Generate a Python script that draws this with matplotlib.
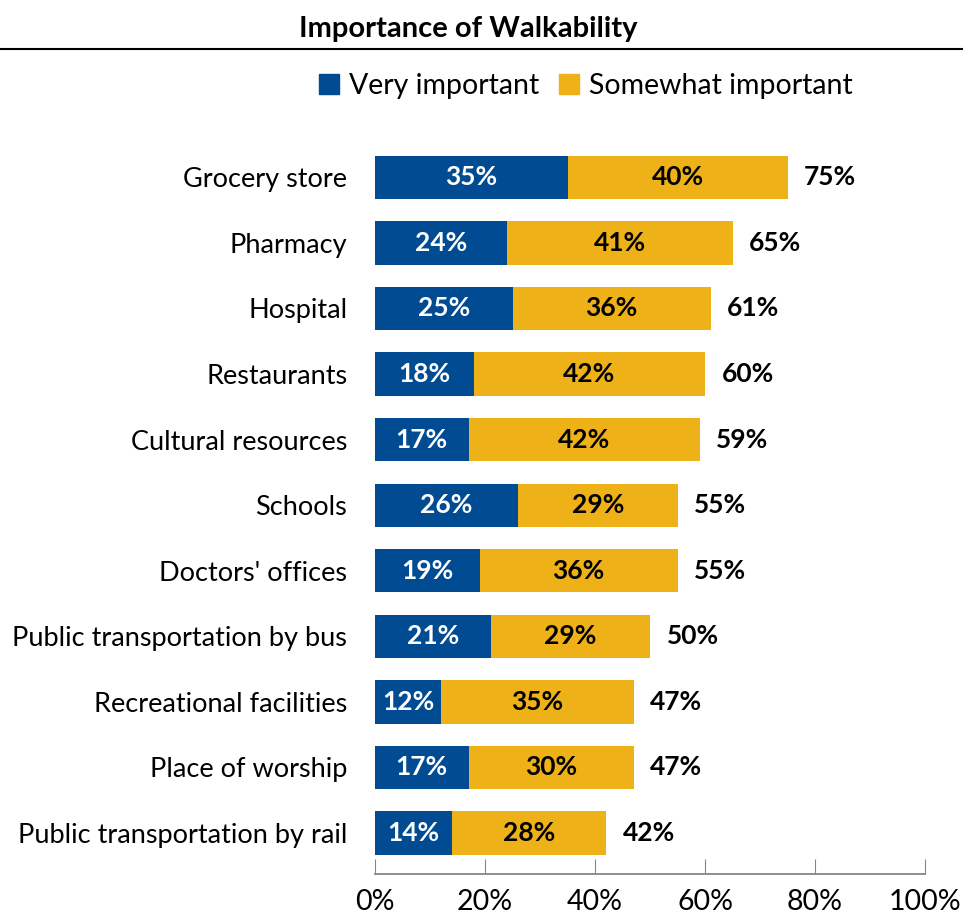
import matplotlib.pyplot as plt
from matplotlib.patches import Patch

categories = ["Grocery store", "Pharmacy", "Hospital", "Restaurants",
              "Cultural resources", "Schools", "Doctors' offices",
              "Public transportation by bus", "Recreational facilities",
              "Place of worship", "Public transportation by rail"]
very = [35, 24, 25, 18, 17, 26, 19, 21, 12, 17, 14]
somewhat = [40, 41, 36, 42, 42, 29, 36, 29, 35, 30, 28]
totals = [75, 65, 61, 60, 59, 55, 55, 50, 47, 47, 42]
xticks = [0, 20, 40, 60, 80, 100]

blue = '#004B91'
gold = '#EFB118'
plt.rcParams['font.family'] = ['Lato', 'DejaVu Sans']

fig = plt.figure(figsize=(9.63, 9.17), dpi=100)
fig.patch.set_facecolor('white')
ax = fig.add_axes([375 / 963, (917 - 874) / 917, 550 / 963, (874 - 138) / 917])

y = list(range(len(categories)))
ax.barh(y, very, height=0.66, color=blue)
ax.barh(y, somewhat, left=very, height=0.66, color=gold)

for i in y:
    ax.text(very[i] / 2, i, f"{very[i]}%", ha='center', va='center',
            color='white', fontsize=19, fontweight='bold')
    ax.text(very[i] + somewhat[i] / 2, i, f"{somewhat[i]}%", ha='center',
            va='center', color='black', fontsize=19, fontweight='bold')
    ax.annotate(f"{totals[i]}%", (very[i] + somewhat[i], i),
                xytext=(12, 0), textcoords='offset points', ha='left',
                va='center', fontsize=19, fontweight='bold')

ax.set_ylim(10.625, -0.6)
ax.set_xlim(0, 100)
ax.set_yticks(y)
ax.set_yticklabels(categories, fontsize=19.5)
ax.set_xticks(xticks)
ax.set_xticklabels([f"{t}%" for t in xticks], fontsize=20.5)
ax.tick_params(axis='y', length=0, pad=20)
ax.tick_params(axis='x', direction='in', length=11, color='#868686', pad=11)
for s in ['left', 'right', 'top']:
    ax.spines[s].set_visible(False)
ax.spines['bottom'].set_color('#868686')
ax.spines['bottom'].set_linewidth(1.3)

fig.text(468 / 963, 1 - 29 / 917, "Importance of Walkability", ha='center',
         va='center', fontsize=21, fontweight='bold')
fig.add_artist(plt.Line2D([0, 1], [1 - 49 / 917, 1 - 49 / 917],
                          color='black', linewidth=1.5))

handles = [Patch(color=blue, label='Very important'),
           Patch(color=gold, label='Somewhat important')]
fig.legend(handles=handles, loc='center', bbox_to_anchor=(586 / 963, 1 - 86 / 917),
           ncol=2, frameon=False, fontsize=20.5, handlelength=0.7,
           handleheight=0.7, handletextpad=0.35, columnspacing=0.7)

fig.savefig('out.png', dpi=100)
